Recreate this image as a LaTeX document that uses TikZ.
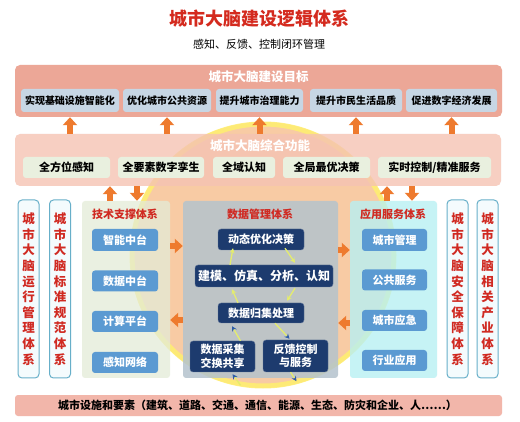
\documentclass[tikz,border=0pt]{standalone}
\usepackage{fontspec}
\setmainfont{Noto Sans CJK SC}
\usetikzlibrary{arrows.meta,calc}
\definecolor{titlered}{HTML}{D42A1E}
\definecolor{headred}{HTML}{D02A22}
\definecolor{salmonA}{HTML}{ECA797}
\definecolor{salmonB}{HTML}{F5C3B3}
\definecolor{goalbox}{HTML}{C7D6E4}
\definecolor{funcbox}{HTML}{E9F0DF}
\definecolor{techpanel}{HTML}{E3ECD8}
\definecolor{datapanel}{HTML}{B4C3CD}
\definecolor{apppanel}{HTML}{B8F0F3}
\definecolor{btnblue}{HTML}{5B9AD2}
\definecolor{navy}{HTML}{1D3B6E}
\definecolor{barline}{HTML}{67AFC9}
\definecolor{barfill}{HTML}{F4FBFD}
\definecolor{arrorange}{HTML}{EE7A2E}
\definecolor{peach}{HTML}{F8CBA4}
\definecolor{ring}{HTML}{FFF06E}
\definecolor{bottombar}{HTML}{F2B6AA}
\definecolor{cycy}{HTML}{E4EC6E}
\definecolor{cycb}{HTML}{2F5DA8}
\begin{document}
\begin{tikzpicture}[x=1pt,y=-1pt,
  panel/.style={rounded corners=5pt, inner sep=0pt, draw=none},
  goalb/.style={panel, fill=goalbox, rounded corners=3pt, minimum height=23pt, font=\fontsize{10}{12}\selectfont\bfseries},
  funcb/.style={panel, fill=funcbox, rounded corners=3pt, minimum height=21pt, font=\fontsize{11}{13}\selectfont\bfseries},
  hdr/.style={text=white, font=\fontsize{12.5}{14}\selectfont\bfseries},
  subhdr/.style={text=headred, font=\fontsize{11}{13}\selectfont\bfseries},
  btn/.style={panel, fill=btnblue, rounded corners=3pt, text=white, minimum width=66pt, minimum height=21pt, font=\fontsize{11}{13}\selectfont\bfseries},
  navyb/.style={panel, fill=navy, draw=navy!70!white, rounded corners=3pt, text=white, font=\fontsize{11}{13.5}\selectfont\bfseries, align=center},
  vbar/.style={rounded corners=4pt, draw=barline, line width=1pt, fill=barfill, inner sep=0pt, minimum width=21pt, minimum height=178pt, text=headred, align=center, font=\fontsize{12.5}{15.6}\selectfont\bfseries},
  blk/.style={draw=arrorange, line width=6pt, -{Triangle[width=14pt,length=8pt]}},
  cyc/.style={draw=cycy, line width=1.3pt, -{Stealth[length=5pt,width=5pt]}},
  cycB/.style={draw=cycy, line width=1.3pt, -{Stealth[length=5pt,width=5pt,color=cycb]}}
]
\useasboundingbox (0,0) rectangle (520,422);
\fill[white] (0,0) rectangle (520,422);

% background circle
\fill[peach] (263,255) circle (133);
\draw[ring, line width=5pt, opacity=0.85] (263,255) circle (131);

% titles
\node[text=titlered, font=\fontsize{18}{20}\selectfont\bfseries] (title) at (259,19) {城市大脑建设逻辑体系};
\node[font=\fontsize{11}{13}\selectfont] (subtitle) at (259,44) {感知、反馈、控制闭环管理};

% goal panel
\node[panel, fill=salmonA, minimum width=487pt, minimum height=52pt] (goal) at (258.5,91) {};
\node[hdr] (goalh) at (258.5,77) {城市大脑建设目标};
\node[goalb, minimum width=98pt] (g1) at (70,100.5) {实现基础设施智能化};
\node[goalb, minimum width=88pt] (g2) at (167,100.5) {优化城市公共资源};
\node[goalb, minimum width=87pt] (g3) at (259.5,100.5) {提升城市治理能力};
\node[goalb, minimum width=92pt] (g4) at (356,100.5) {提升市民生活品质};
\node[goalb, minimum width=91pt] (g5) at (451.5,100.5) {促进数字经济发展};

% function panel
\node[panel, fill=salmonB, fill opacity=0.8, minimum width=486pt, minimum height=52pt] (sec) at (258,160) {};
\node[hdr] (sech) at (260,146) {城市大脑综合功能};
\node[funcb, minimum width=87pt] (f1) at (66.5,167.5) {全方位感知};
\node[funcb, minimum width=86pt] (f2) at (161,167.5) {全要素数字孪生};
\node[funcb, minimum width=62pt] (f3) at (244,167.5) {全域认知};
\node[funcb, minimum width=87pt] (f4) at (326.5,167.5) {全局最优决策};
\node[funcb, minimum width=113pt] (f5) at (434.5,167.5) {实时控制/精准服务};

% arrows goal <- function
\foreach \g in {g1,g2,g3,g4,g5}
  \draw[blk] (\g |- sec.north) -- (\g |- goal.south);

% side bars
\node[vbar] (L1) at (28.5,289) {城\\市\\大\\脑\\运\\行\\管\\理\\体\\系};
\node[vbar] (L2) at (60,289) {城\\市\\大\\脑\\标\\准\\规\\范\\体\\系};
\node[vbar] (R1) at (457.5,289) {城\\市\\大\\脑\\安\\全\\保\\障\\体\\系};
\node[vbar] (R2) at (487.5,289) {城\\市\\大\\脑\\相\\关\\产\\业\\体\\系};

% sub-system panels
\node[panel, fill=techpanel, fill opacity=0.75, rounded corners=3pt, minimum width=88pt, minimum height=177pt] (tech) at (126,289.5) {};
\node[panel, fill=datapanel, fill opacity=0.85, rounded corners=3pt, minimum width=155pt, minimum height=177pt] (data) at (260.5,289.5) {};
\node[panel, fill=apppanel, fill opacity=0.8, rounded corners=3pt, minimum width=87pt, minimum height=177pt] (app) at (393.5,289.5) {};

\node[subhdr] (techh) at (125,214) {技术支撑体系};
\node[subhdr] (datah) at (260,214) {数据管理体系};
\node[subhdr] (apph) at (393,214) {应用服务体系};

\node[btn, minimum height=22pt] (t1) at (125,240) {智能中台};
\node[btn] (t2) at (125,281) {数据中台};
\node[btn] (t3) at (125,321.5) {计算平台};
\node[btn] (t4) at (125,362.5) {感知网络};

\node[btn, minimum width=65pt, minimum height=22pt] (a1) at (394.5,240) {城市管理};
\node[btn, minimum width=65pt] (a2) at (394.5,280) {公共服务};
\node[btn, minimum width=65pt] (a3) at (394.5,320.5) {城市应急};
\node[btn, minimum width=65pt] (a4) at (394.5,360.5) {行业应用};

\node[navyb, minimum width=86pt, minimum height=21pt] (d1) at (261,239.5) {动态优化决策};
\node[navyb, minimum width=138pt, minimum height=22pt, font=\fontsize{12}{14}\selectfont\bfseries] (d2) at (264,276) {建模、仿真、分析、认知};
\node[navyb, minimum width=86pt, minimum height=20pt] (d3) at (261,313) {数据归集处理};
\node[navyb, minimum width=65pt, minimum height=31pt] (d4) at (222.5,356.5) {数据采集\\交换共享};
\node[navyb, minimum width=65pt, minimum height=32pt] (d5) at (295.5,356) {反馈控制\\与服务};

% cycle arrows
\draw[cyc] ($(d2.north)+(-34,0)$) -- ($(d1.south)+(-28,-2)$);
\draw[cyc] ($(d1.south)+(24,-2)$) -- ($(d2.north)+(31,-2)$);
\draw[cyc] ($(d2.south)+(31,1)$) -- ($(d3.north)+(26,-2)$);
\draw[cyc] ($(d3.north)+(-23,0)$) -- ($(d2.south)+(-32,2)$);
\draw[cycB] ($(d4.north)+(18,0)$) -- ($(d3.south)+(-29,3)$);
\draw[cycB] ($(d3.south)+(14,0)$) -- ($(d5.north)+(-6,-1)$);
\draw[cycB] ($(d5.south)+(-5,0)$) -- ($(d5.south)+(1,9)$);
\draw[cycB] ($(d4.south)+(18,13)$) -- ($(d4.south)+(10,2)$);

% arrows function <-> subsystems
\draw[blk] ($(tech.north)+(-16,0)$) -- ($(sec.south -| tech.north)+(-16,0)$);
\draw[blk] ($(sec.south -| tech.north)+(11,0)$) -- ($(tech.north)+(11,0)$);
\draw[blk] ($(app.north)+(-6.5,0)$) -- ($(sec.south -| app.north)+(-6.5,0)$);
\draw[blk] ($(sec.south -| app.north)+(18.5,0)$) -- ($(app.north)+(18.5,0)$);

% arrows between subsystems
\draw[blk] ($(tech.east)+(0,-43.5)$) -- ($(data.west)+(0,-43.5)$);
\draw[blk] ($(data.east)+(0,-39.5)$) -- ($(app.west)+(0,-39.5)$);
\draw[blk] ($(data.west)+(0,30.5)$) -- ($(tech.east)+(0,30.5)$);
\draw[blk] ($(app.west)+(0,33.5)$) -- ($(data.east)+(0,33.5)$);

% bottom bar
\node[panel, fill=bottombar, rounded corners=3pt, minimum width=487pt, minimum height=21pt] (base) at (258.5,405.5) {};
\node[anchor=west, font=\fontsize{11}{13}\selectfont\bfseries, inner sep=0pt] (baset) at (58,405.5) {城市设施和要素（建筑、道路、交通、通信、能源、生态、防灾和企业、人……）};
\end{tikzpicture}
\end{document}
